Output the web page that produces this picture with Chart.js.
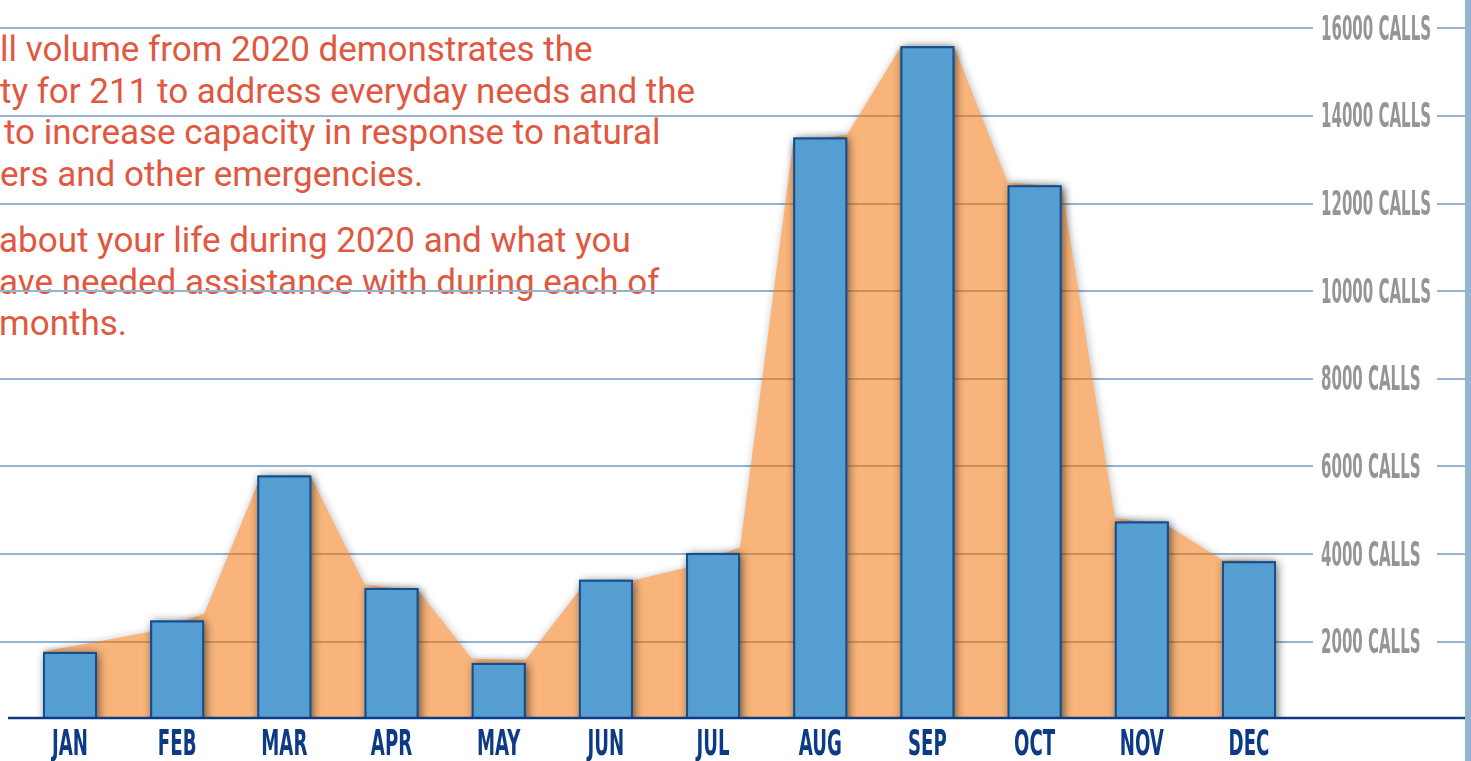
<!DOCTYPE html>
<html>
<head>
<meta charset="utf-8">
<script src="https://cdn.jsdelivr.net/npm/chart.js@4.4.1/dist/chart.umd.min.js"></script>
<style>
    html, body {
        margin: 0;
        padding: 0;
        background: #ffffff;
        overflow: hidden;
    }
    #wrap {
        position: relative;
        width: 1471px;
        height: 761px;
    }
    #intro {
        position: absolute;
        left: 0;
        top: 0;
        width: 760px;
        font-family: Roboto, 'Noto Sans', sans-serif;
        font-size: 35px;
        line-height: 41.6px;
        color: #e0583f;
        z-index: 0;
        white-space: nowrap;
    }
    #intro .para {
        position: absolute;
        left: 0;
    }
    #calls-chart {
        position: absolute;
        left: 0;
        top: 0;
        z-index: 1;
    }
</style>
</head>
<body>
<div id="wrap">
    <div id="intro">
        <div class="para" style="top: 29.3px;">
            <div>ll volume from 2020 demonstrates the</div>
            <div>ty for 211 to address everyday needs and the</div>
            <div style="padding-left: 4px;">to increase capacity in response to natural</div>
            <div>ers and other emergencies.</div>
        </div>
        <div class="para" style="top: 220.3px; left: -1px;">
            <div>about your life during 2020 and what you</div>
            <div>ave needed assistance with during each of</div>
            <div>months.</div>
        </div>
    </div>
    <canvas id="calls-chart" width="1471" height="761"></canvas>
</div>
<script>
// monthly 211 call volume, 2020
const MONTHS = ['JAN', 'FEB', 'MAR', 'APR', 'MAY', 'JUN', 'JUL', 'AUG', 'SEP', 'OCT', 'NOV', 'DEC'];
const CALLS = [1765, 2485, 5795, 3225, 1515, 3415, 4025, 13510, 15590, 12415, 4745, 3835];

// orange backdrop: value at the left and right edge of each month's bar
const AREA_LEFT = [1772, 2228, 5584, 3301, 1612, 3164, 3689, 13393, 15562, 12479, 4831, 3872];
const AREA_RIGHT = [2000, 2639, 5744, 3164, 1589, 3393, 4146, 13575, 15562, 12388, 4626, 3826];

const Y_TICKS = [2000, 4000, 6000, 8000, 10000, 12000, 14000, 16000];
const Y_TICK_LABELS = ['2000 CALLS', '4000 CALLS', '6000 CALLS', '8000 CALLS', '10000 CALLS', '12000 CALLS', '14000 CALLS', '16000 CALLS'];

const HALF_BAR = 0.252;
const GRID_COLOR = '#94b4d2';
const GRID_ON_AREA = 'rgba(150, 100, 60, 0.45)';
const NAVY = '#0c3a84';
const LABEL_GRAY = '#939598';
const NARROW_FONT = "'Liberation Sans Narrow', 'DejaVu Sans Condensed', 'Arial Narrow', sans-serif";

const barPoints = CALLS.map((value, i) => ({ x: i, y: value }));
const areaPoints = [];
AREA_LEFT.forEach((value, i) => {
    areaPoints.push({ x: i - HALF_BAR, y: value });
    areaPoints.push({ x: i + HALF_BAR, y: AREA_RIGHT[i] });
});

function squeezedText(ctx, text, x, y, align, squeeze) {
    const width = ctx.measureText(text).width * squeeze;
    const left = align === 'center' ? x - width / 2 : x;
    ctx.save();
    ctx.translate(left, y);
    ctx.scale(squeeze, 1);
    ctx.fillText(text, 0, 0);
    ctx.restore();
}

// the filler paints the area inside its own beforeDatasetDraw,
// so the area shadow is switched on one hook earlier
const shadowPlugin = {
    id: 'shadows',
    beforeDatasetsDraw(chart) {
        const ctx = chart.ctx;
        ctx.save();
        ctx.shadowColor = 'rgba(0, 0, 0, 0.28)';
        ctx.shadowBlur = 8;
        ctx.shadowOffsetX = 1;
        ctx.shadowOffsetY = 1;
    },
    afterDatasetDraw(chart, args) {
        const ds = chart.data.datasets[args.index];
        if (ds.type !== 'line') return;
        const { ctx, chartArea, scales } = chart;
        ctx.restore();

        // grid lines showing through the orange
        const pts = args.meta.data;
        ctx.save();
        ctx.beginPath();
        ctx.moveTo(pts[0].x, chartArea.bottom);
        pts.forEach((p) => ctx.lineTo(p.x, p.y));
        ctx.lineTo(pts[pts.length - 1].x, chartArea.bottom);
        ctx.closePath();
        ctx.clip();
        ctx.strokeStyle = GRID_ON_AREA;
        ctx.lineWidth = 2;
        Y_TICKS.forEach((value) => {
            const y = Math.round(scales.y.getPixelForValue(value));
            ctx.beginPath();
            ctx.moveTo(chartArea.left, y);
            ctx.lineTo(chartArea.right, y);
            ctx.stroke();
        });
        ctx.restore();
    },
    beforeDatasetDraw(chart, args) {
        const ds = chart.data.datasets[args.index];
        if (ds.type !== 'bar') return;
        // bar elements clip to their own rect, so cast their shadow first
        const { ctx, chartArea } = chart;
        ctx.save();
        ctx.beginPath();
        ctx.rect(chartArea.left, chartArea.top, chartArea.width, chartArea.height);
        ctx.clip();
        ctx.shadowColor = 'rgba(0, 0, 0, 0.6)';
        ctx.shadowBlur = 9;
        ctx.shadowOffsetX = 2;
        ctx.shadowOffsetY = 1;
        ctx.fillStyle = '#134f8e';
        args.meta.data.forEach((bar) => {
            const { x, y, base, width } = bar.getProps(['x', 'y', 'base', 'width'], true);
            ctx.fillRect(x - width / 2, y, width, base - y);
        });
        ctx.restore();
    }
};

const decorPlugin = {
    id: 'decor',
    afterDraw(chart) {
        const { ctx, chartArea, scales, width, height } = chart;
        ctx.save();

        // grid continues past the plot, broken by the labels
        ctx.strokeStyle = GRID_COLOR;
        ctx.lineWidth = 2;
        Y_TICKS.forEach((value) => {
            const y = Math.round(scales.y.getPixelForValue(value));
            ctx.beginPath();
            ctx.moveTo(chartArea.right, y);
            ctx.lineTo(1313, y);
            ctx.moveTo(1437, y);
            ctx.lineTo(1466, y);
            ctx.stroke();
        });

        // baseline
        ctx.strokeStyle = NAVY;
        ctx.lineWidth = 2.5;
        ctx.beginPath();
        ctx.moveTo(8, chartArea.bottom);
        ctx.lineTo(width, chartArea.bottom);
        ctx.stroke();

        // right rule
        ctx.fillStyle = GRID_COLOR;
        ctx.fillRect(1465, 0, width - 1465, height);

        // y labels
        ctx.fillStyle = LABEL_GRAY;
        ctx.font = `bold 33px ${NARROW_FONT}`;
        ctx.textBaseline = 'alphabetic';
        const ySqueeze = 110 / ctx.measureText('16000 CALLS').width;
        Y_TICKS.forEach((value, i) => {
            const y = scales.y.getPixelForValue(value);
            squeezedText(ctx, Y_TICK_LABELS[i], 1321, y + 11.5, 'left', ySqueeze);
        });

        // month labels
        ctx.fillStyle = NAVY;
        ctx.font = `bold 36px ${NARROW_FONT}`;
        const xSqueeze = 36 / ctx.measureText('JAN').width;
        MONTHS.forEach((month, i) => {
            const x = scales.x.getPixelForValue(i);
            squeezedText(ctx, month, x, 755, 'center', xSqueeze);
        });
        ctx.restore();
    }
};

new Chart(document.getElementById('calls-chart'), {
    data: {
        datasets: [
            {
                type: 'line',
                label: 'Call volume',
                data: areaPoints,
                order: 2,
                fill: 'start',
                backgroundColor: '#f8b47a',
                borderWidth: 0,
                pointRadius: 0,
                tension: 0
            },
            {
                type: 'bar',
                label: 'Calls',
                data: barPoints,
                order: 1,
                backgroundColor: '#559ed2',
                borderColor: '#134f8e',
                borderWidth: 2,
                categoryPercentage: 0.8,
                barPercentage: 0.63
            }
        ]
    },
    options: {
        responsive: false,
        animation: false,
        events: [],
        layout: {
            padding: { left: 0, right: 168, top: 0, bottom: 43 }
        },
        plugins: {
            legend: { display: false },
            tooltip: { enabled: false }
        },
        scales: {
            x: {
                type: 'linear',
                min: -0.653,
                max: 11.504,
                offset: false,
                display: false,
                afterBuildTicks: (scale) => {
                    scale.ticks = MONTHS.map((_, i) => ({ value: i }));
                }
            },
            y: {
                type: 'linear',
                position: 'right',
                min: 257,
                max: 16646,
                afterBuildTicks: (scale) => {
                    scale.ticks = Y_TICKS.map((value) => ({ value }));
                },
                ticks: { display: false },
                border: { display: false },
                grid: {
                    color: GRID_COLOR,
                    lineWidth: 2,
                    drawTicks: false
                }
            }
        }
    },
    plugins: [shadowPlugin, decorPlugin]
});
</script>
</body>
</html>
